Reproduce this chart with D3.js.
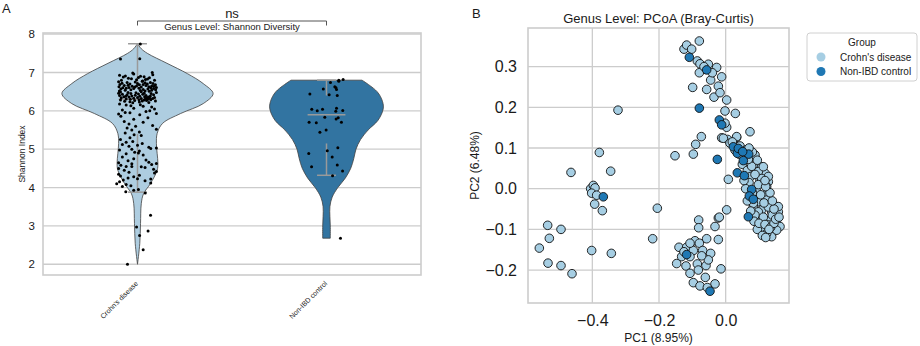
<!DOCTYPE html>
<html>
<head>
<meta charset="utf-8">
<script src="https://cdn.jsdelivr.net/npm/d3@7"></script>
<style>
body { margin: 0; background: #fff; }
text { font-family: "Liberation Sans", Arial, sans-serif; fill: #1a1a1a; }
</style>
</head>
<body>
<div class="figure"></div>
<script>
// ---- panel A data ----
var groups = ["Crohn's disease", "Non-IBD control"];
var shannonTicks = [2, 3, 4, 5, 6, 7, 8];

// violin outline (value, relative density)
var crohnsKdeY = [7.75, 7.62, 7.5, 7.24, 6.97, 6.71, 6.45, 6.19, 5.93, 5.67, 5.41, 5.15, 4.89, 4.63, 4.45, 4.1, 3.84, 3.58, 3.06, 2.54, 2.0];
var crohnsKdeD = [0.0, 0.05, 0.13, 0.39, 0.66, 0.87, 1.0, 0.87, 0.57, 0.33, 0.26, 0.25, 0.26, 0.27, 0.26, 0.17, 0.08, 0.05, 0.04, 0.03, 0.0];
var controlKdeY = [6.8, 6.5, 6.25, 6.05, 5.75, 5.5, 5.25, 5.0, 4.75, 4.5, 4.25, 4.0, 3.75, 3.5, 3.25, 3.0, 2.68];
var controlKdeD = [0.47, 0.67, 0.74, 0.75, 0.68, 0.55, 0.45, 0.39, 0.36, 0.32, 0.25, 0.15, 0.075, 0.045, 0.045, 0.05, 0.05];

// box stats: lower whisker, q1, median, q3, upper whisker
var crohnsBox = [3.88, 5.4, 6.3, 6.6, 7.75];
var controlBox = [4.32, 5.15, 5.9, 6.4, 6.8];

// strip points: [shannon, jitter]
var crohnsPts = [
  [7.74,0.015],[7.35,-0.09],[7.36,0.012],[6.99,-0.025],[7.0,0.078],
  [6.93,-0.095],[6.88,-0.075],[6.85,-0.048],[6.96,-0.02],[6.9,0.016],[6.82,0.042],[6.86,0.063],[6.94,0.081],[6.8,-0.085],[6.84,-0.032],[6.78,0.027],[6.83,0.053],[6.91,-0.064],[6.87,0.005],[6.8,0.09],[6.89,0.035],[6.81,-0.005],
  [6.76,-0.1],[6.72,-0.082],[6.69,-0.093],[6.66,-0.07],[6.63,-0.098],[6.6,-0.078],[6.57,-0.088],[6.54,-0.065],[6.52,-0.096],[6.74,-0.055],[6.7,-0.04],[6.67,-0.05],[6.64,-0.028],[6.61,-0.045],[6.58,-0.02],[6.55,-0.035],[6.75,-0.012],[6.71,0.0],[6.68,0.01],[6.65,-0.005],[6.62,0.02],[6.59,0.008],[6.56,0.03],[6.53,0.015],[6.77,0.025],[6.73,0.04],[6.7,0.052],[6.66,0.045],[6.63,0.06],[6.6,0.07],[6.57,0.055],[6.54,0.075],[6.51,0.062],[6.74,0.068],[6.71,0.082],[6.68,0.095],[6.64,0.088],[6.61,0.1],[6.58,0.085],[6.55,0.096],[6.52,0.04],[6.69,0.03],[6.59,-0.06],[6.65,0.075],[6.62,-0.015],
  [6.49,-0.09],[6.46,-0.1],[6.43,-0.08],[6.4,-0.095],[6.37,-0.072],[6.34,-0.086],[6.31,-0.06],[6.28,-0.09],[6.25,-0.068],[6.48,-0.05],[6.45,-0.035],[6.42,-0.055],[6.39,-0.03],[6.36,-0.045],[6.33,-0.02],[6.3,-0.038],[6.27,-0.015],[6.24,-0.04],[6.47,-0.008],[6.44,0.005],[6.41,-0.012],[6.38,0.012],[6.35,0.0],[6.32,0.02],[6.29,0.008],[6.26,0.025],[6.23,0.01],[6.5,0.02],[6.46,0.035],[6.43,0.028],[6.4,0.045],[6.37,0.038],[6.34,0.05],[6.31,0.042],[6.3,0.055],[6.28,0.035],[6.33,0.065],[6.36,0.058],[6.29,0.07],[6.27,0.048],[6.45,0.072],[6.42,0.085],[6.39,0.068],[6.35,0.09],[6.32,0.08],[6.26,0.095],[6.22,0.06],[6.48,0.1],[6.38,-0.062],[6.21,-0.025],
  [6.18,-0.095],[6.15,-0.06],[6.12,0.03],[6.1,0.075],[6.07,-0.02],[6.05,0.09],[6.02,-0.08],[5.98,0.045],[5.95,-0.04],[5.93,0.1],[5.92,-0.1],[5.9,0.012],[6.16,0.015],[6.0,0.065],[5.96,-0.065],[6.13,-0.035],
  [5.86,-0.088],[5.82,0.055],[5.78,-0.02],[5.72,-0.07],[5.7,0.03],[5.66,-0.045],[5.62,0.08],[5.6,-0.01],[5.55,-0.055],[5.52,0.1],[5.5,-0.03],[5.45,0.01],[5.42,-0.065],[5.38,-0.018],
  [5.36,0.02],[5.3,-0.04],[5.25,-0.09],[5.2,-0.025],[5.18,-0.06],[5.15,0.025],[5.12,-0.08],[5.08,-0.045],[5.05,0.06],[5.03,0.1],[5.02,0.07],[5.0,-0.03],[4.98,-0.095],[5.1,0.0],
  [4.95,0.01],[4.92,-0.015],[4.9,0.005],[4.88,-0.06],[4.85,0.03],[4.8,-0.08],[4.75,-0.02],[4.72,0.045],[4.7,-0.05],[4.66,0.06],[4.63,0.1],[4.62,-0.03],[4.6,0.075],[4.65,-0.1],
  [4.58,-0.088],[4.55,-0.06],[4.55,-0.03],[4.54,0.02],[4.52,0.04],[4.5,-0.1],[4.48,0.085],[4.45,-0.07],[4.42,0.1],[4.4,-0.045],[4.38,0.09],[4.35,-0.1],[4.32,0.01],[4.3,-0.09],[4.28,-0.02],[4.25,-0.05],[4.23,0.0],[4.22,0.07],[4.2,-0.075],[4.18,0.04],
  [4.15,-0.095],[4.12,0.07],[4.1,-0.11],[4.08,-0.06],[4.05,-0.035],[4.03,-0.08],[3.95,0.005],[3.93,-0.02],[3.89,-0.062],[3.86,0.041],
  [3.28,0.069],[2.97,-0.005],[2.87,0.056],[2.75,0.011],[2.38,0.03],[2.0,-0.053]
];
var controlPts = [
  [6.82,0.088],[6.8,0.065],[6.77,0.065],[6.74,0.021],[6.63,0.044],[6.57,-0.017],[6.56,0.053],[6.6,0.05],[6.44,-0.088],[6.42,0.014],[6.4,0.057],
  [6.04,-0.078],[6.0,-0.049],[6.04,-0.021],[6.07,0.053],[5.99,0.049],[6.01,0.086],[5.7,-0.092],[5.69,-0.054],[5.83,-0.009],[5.79,0.051],[5.82,0.062],[5.7,0.079],[5.5,-0.002],[5.44,-0.035],
  [4.89,-0.094],[5.04,0.06],[4.96,0.004],[4.8,0.03],[4.54,-0.079],[4.59,0.057],[4.43,0.085],[4.31,0.032],[2.68,0.074]
];

// ---- panel B data ----
var pc1Ticks = [-0.4, -0.2, 0.0];
var pc2Ticks = [-0.2, -0.1, 0.0, 0.1, 0.2, 0.3];

// [PC1, PC2]
var pcoaCrohns = [
  [-0.323,0.193],[-0.464,0.040],[-0.379,0.089],[-0.345,0.043],[-0.405,0.0],[-0.397,0.008],[-0.392,0.002],[-0.402,-0.011],[-0.387,-0.016],[-0.393,-0.038],[-0.370,-0.054],
  [-0.534,-0.090],[-0.494,-0.100],[-0.529,-0.122],[-0.559,-0.146],[-0.533,-0.183],[-0.494,-0.189],[-0.461,-0.209],[-0.402,-0.152],[-0.343,-0.159],[-0.205,-0.048],[-0.219,-0.123],[-0.152,0.081],
  [-0.081,-0.077],[-0.081,-0.096],[-0.022,-0.072],[0.003,-0.052],[-0.032,-0.093],[-0.022,-0.125],[-0.057,-0.123],[-0.092,-0.128],[-0.079,-0.134],[-0.140,-0.144],[-0.117,-0.144],[-0.097,-0.152],[-0.069,-0.152],[-0.045,-0.159],[-0.107,-0.167],[-0.147,-0.184],[-0.119,-0.190],[-0.085,-0.185],[-0.059,-0.189],[-0.082,-0.200],[-0.107,-0.208],[-0.014,-0.197],[-0.061,-0.218],[-0.097,-0.231],[-0.077,-0.239],[-0.032,-0.234],[-0.055,-0.243],[-0.132,-0.167],[-0.107,-0.134],[-0.052,-0.175],[-0.125,-0.155],[-0.072,-0.165],[-0.019,-0.070],
  [-0.125,0.343],[-0.117,0.353],[-0.102,0.343],[-0.079,0.363],[-0.085,0.314],[-0.077,0.307],[-0.052,0.306],[-0.079,0.285],[-0.027,0.298],[-0.012,0.275],[-0.045,0.267],[-0.022,0.252],[-0.099,0.249],[-0.057,0.244],[-0.035,0.225],[-0.017,0.236],[0.003,0.218],[-0.002,0.191],[0.029,0.185],[0.003,0.151],[-0.002,0.161],[-0.073,0.128],[-0.090,0.109],[-0.097,0.085],[-0.012,0.125],[0.006,0.121],[0.033,0.126],[0.008,0.023],[-0.065,0.300],[-0.040,0.285],
  [0.033,0.128],[-0.007,0.124],[0.013,0.112],[0.043,0.105],[0.06,0.095],[0.075,0.088],[0.083,0.079],[0.093,0.062],[0.108,0.054],[0.118,0.038],[0.103,0.021],[0.128,0.017],[0.123,0.005],[0.093,-0.007],[0.123,-0.02],[0.098,-0.032],[0.133,-0.036],[0.153,-0.044],[0.083,-0.044],[0.108,-0.052],[0.138,-0.057],[0.093,-0.069],[0.113,-0.077],[0.133,-0.077],[0.148,-0.069],[0.103,-0.093],[0.123,-0.097],[0.143,-0.106],[0.138,-0.118],[0.108,-0.106],[0.153,-0.085],[0.158,-0.057],
  [0.088,0.083],[0.098,0.042],[0.113,0.054],[0.128,0.03],[0.108,0.025],[0.118,-0.016],[0.083,-0.036],[0.123,-0.028],[0.158,-0.044],[0.098,-0.057],[0.088,-0.065],[0.113,-0.07],[0.128,-0.089],[0.108,-0.098],[0.123,-0.11],[0.163,-0.093],[0.153,-0.102],[0.073,0.14],
  [0.05,0.06],[0.065,0.045],[0.075,0.03],[0.07,0.015],[0.06,0.0],[0.065,-0.03],[0.075,-0.055],[0.085,-0.08],[0.095,-0.1],[0.1,-0.085],[0.118,-0.088],[0.135,-0.095],[0.145,-0.085],[0.14,-0.065],[0.128,-0.045],[0.115,-0.035],[0.105,-0.015],[0.098,0.01],[0.088,0.035],[0.078,0.055],[0.068,0.072],[0.04,0.085],[0.028,0.095],[0.02,0.115],[0.055,0.02],[0.08,-0.01],[0.13,-0.1],[0.11,-0.115],[0.12,-0.12],[0.15,-0.075],[0.16,-0.07],[0.145,-0.05],[0.14,-0.03],[0.133,-0.01],[0.12,0.005],[0.118,0.02],[0.095,0.07],[0.08,0.09],[0.07,0.1]
];
var pcoaControl = [
  [-0.109,0.323],[-0.057,0.292],[-0.079,0.198],[-0.019,0.169],[-0.012,0.157],[-0.025,0.072],
  [0.023,0.103],[0.035,0.087],[0.053,0.069],[0.069,0.085],[0.038,0.099],[0.051,0.091],[0.035,0.039],[0.056,0.032],
  [0.078,-0.002],[0.071,-0.018],[0.083,-0.026],[0.068,-0.069],
  [-0.367,-0.020],[-0.117,-0.162],[-0.047,-0.252]
];

var colLight = "#a6cee3", colDark = "#1f78b4";
var violinFill = ["#aecde0", "#3274a1"];
var gridCol = "#cccccc";

var svg = d3.select(".figure").append("svg")
   .attr("width", 920)
   .attr("height", 346);

// =================== panel A: violin ===================
let xCat = d3.scaleLinear().domain([-0.5, 1.5]).range([43, 421]);
let yDiv = d3.scaleLinear().domain([1.72, 8.03]).range([275, 33]);
let violinW = d3.scaleLinear().domain([0, 1]).range([0, 0.4]);

let panelA = svg.append("g");

panelA.selectAll("line.grid")
   .data(shannonTicks)
   .enter()
   .append("line")
   .attr("class", "grid")
   .attr("x1", xCat(-0.5))
   .attr("x2", xCat(1.5))
   .attr("y1", d => yDiv(d))
   .attr("y2", d => yDiv(d))
   .style("stroke", gridCol)
   .style("stroke-width", 1.3);

let violins = [
   {i: 0, ys: crohnsKdeY, ds: crohnsKdeD, box: crohnsBox, pts: crohnsPts},
   {i: 1, ys: controlKdeY, ds: controlKdeD, box: controlBox, pts: controlPts}
];

violins.forEach(v => {
   let prof = v.ys.map((y, k) => [y, v.ds[k]]);
   let area = d3.area()
      .y(d => yDiv(d[0]))
      .x0(d => xCat(v.i - violinW(d[1])))
      .x1(d => xCat(v.i + violinW(d[1])))
      .curve(d3.curveCatmullRom);
   panelA.append("path")
      .datum(prof)
      .attr("d", area)
      .style("fill", violinFill[v.i])
      .style("stroke", "#404040")
      .style("stroke-width", 0.8);

   // box-less boxplot: whiskers, caps, median
   let b = v.box;
   let segs = [
      [v.i, b[3], v.i, b[4]],
      [v.i, b[0], v.i, b[1]],
      [v.i - 0.05, b[4], v.i + 0.05, b[4]],
      [v.i - 0.05, b[0], v.i + 0.05, b[0]],
      [v.i - 0.1, b[2], v.i + 0.1, b[2]]
   ];
   panelA.selectAll(null)
      .data(segs)
      .enter()
      .append("line")
      .attr("x1", d => xCat(d[0]))
      .attr("y1", d => yDiv(d[1]))
      .attr("x2", d => xCat(d[2]))
      .attr("y2", d => yDiv(d[3]))
      .style("stroke", "#9a9a9a")
      .style("stroke-width", 1.5);

   panelA.selectAll(null)
      .data(v.pts)
      .enter()
      .append("circle")
      .attr("cx", d => xCat(v.i + d[1]))
      .attr("cy", d => yDiv(d[0]))
      .attr("r", 1.5)
      .style("fill", "#000");
});

panelA.append("rect")
   .attr("x", xCat(-0.5))
   .attr("y", yDiv(8.03))
   .attr("width", xCat(1.5) - xCat(-0.5))
   .attr("height", yDiv(1.72) - yDiv(8.03))
   .style("fill", "none")
   .style("stroke", gridCol)
   .style("stroke-width", 1.6);

let yAxisA = panelA.append("g")
   .attr("transform", `translate(${xCat(-0.5)},0)`)
   .call(d3.axisLeft(yDiv).tickValues(shannonTicks).tickSize(0).tickPadding(8).tickFormat(d3.format("d")));
yAxisA.select(".domain").remove();
yAxisA.selectAll("text").style("font-size", "11.5px").style("font-family", "Liberation Sans, Arial");

panelA.selectAll("text.xlab")
   .data(groups)
   .enter()
   .append("text")
   .attr("class", "xlab")
   .attr("transform", (d, i) => `translate(${xCat(i) + 1},${yDiv(1.72) + 9}) rotate(-45)`)
   .style("text-anchor", "end")
   .style("font-size", "7px")
   .text(d => d);

panelA.append("text")
   .attr("transform", `translate(25,${(yDiv(8.03) + yDiv(1.72)) / 2}) rotate(-90)`)
   .style("text-anchor", "middle")
   .style("font-size", "8.5px")
   .text("Shannon Index");

// significance bracket
panelA.append("path")
   .attr("d", `M${xCat(0)},25.5 V21 H${xCat(1)} V25.5`)
   .style("fill", "none")
   .style("stroke", "#555")
   .style("stroke-width", 1);

panelA.append("text")
   .attr("x", (xCat(0) + xCat(1)) / 2)
   .attr("y", 18)
   .style("text-anchor", "middle")
   .style("font-size", "13px")
   .text("ns");

panelA.append("text")
   .attr("x", (xCat(0) + xCat(1)) / 2)
   .attr("y", 29.5)
   .style("text-anchor", "middle")
   .style("font-size", "9.5px")
   .text("Genus Level: Shannon Diversity");

panelA.append("text")
   .attr("x", 2)
   .attr("y", 12.5)
   .style("font-size", "13px")
   .text("A");

// =================== panel B: PCoA ===================
let xPC = d3.scaleLinear().domain([-0.593, 0.19]).range([528, 789]);
let yPC = d3.scaleLinear().domain([-0.281, 0.395]).range([303, 28]);

let panelB = svg.append("g");

panelB.selectAll("line.vgrid")
   .data(pc1Ticks)
   .enter()
   .append("line")
   .attr("x1", d => xPC(d))
   .attr("x2", d => xPC(d))
   .attr("y1", yPC(0.395))
   .attr("y2", yPC(-0.281))
   .style("stroke", gridCol)
   .style("stroke-width", 1.3);

panelB.selectAll("line.hgrid")
   .data(pc2Ticks)
   .enter()
   .append("line")
   .attr("x1", xPC(-0.593))
   .attr("x2", xPC(0.19))
   .attr("y1", d => yPC(d))
   .attr("y2", d => yPC(d))
   .style("stroke", gridCol)
   .style("stroke-width", 1.3);

panelB.selectAll("circle.cd")
   .data(pcoaCrohns)
   .enter()
   .append("circle")
   .attr("class", "cd")
   .attr("cx", d => xPC(d[0]))
   .attr("cy", d => yPC(d[1]))
   .attr("r", 4.3)
   .style("fill", colLight)
   .style("stroke", "#111")
   .style("stroke-width", 0.9);

panelB.selectAll("circle.ctrl")
   .data(pcoaControl)
   .enter()
   .append("circle")
   .attr("class", "ctrl")
   .attr("cx", d => xPC(d[0]))
   .attr("cy", d => yPC(d[1]))
   .attr("r", 4.3)
   .style("fill", colDark)
   .style("stroke", "#111")
   .style("stroke-width", 0.9);

panelB.append("rect")
   .attr("x", xPC(-0.593))
   .attr("y", yPC(0.395))
   .attr("width", xPC(0.19) - xPC(-0.593))
   .attr("height", yPC(-0.281) - yPC(0.395))
   .style("fill", "none")
   .style("stroke", gridCol)
   .style("stroke-width", 1.6);

let yAxisB = panelB.append("g")
   .attr("transform", `translate(${xPC(-0.593)},0)`)
   .call(d3.axisLeft(yPC).tickValues(pc2Ticks).tickSize(0).tickPadding(11).tickFormat(d3.format(".1f")));
yAxisB.select(".domain").remove();
yAxisB.selectAll("text").style("font-size", "16px").style("font-family", "Liberation Sans, Arial");

let xAxisB = panelB.append("g")
   .attr("transform", `translate(0,${yPC(-0.281)})`)
   .call(d3.axisBottom(xPC).tickValues(pc1Ticks).tickSize(0).tickPadding(12).tickFormat(d3.format(".1f")));
xAxisB.select(".domain").remove();
xAxisB.selectAll("text").style("font-size", "16px").style("font-family", "Liberation Sans, Arial");

panelB.append("text")
   .attr("x", (xPC(-0.593) + xPC(0.19)) / 2)
   .attr("y", 342)
   .style("text-anchor", "middle")
   .style("font-size", "12px")
   .text("PC1 (8.95%)");

panelB.append("text")
   .attr("transform", `translate(479,${(yPC(0.395) + yPC(-0.281)) / 2}) rotate(-90)`)
   .style("text-anchor", "middle")
   .style("font-size", "12px")
   .text("PC2 (6.48%)");

panelB.append("text")
   .attr("x", (xPC(-0.593) + xPC(0.19)) / 2)
   .attr("y", 23)
   .style("text-anchor", "middle")
   .style("font-size", "13px")
   .text("Genus Level: PCoA (Bray-Curtis)");

panelB.append("text")
   .attr("x", 472)
   .attr("y", 18)
   .style("font-size", "13px")
   .text("B");

// legend
let legend = svg.append("g").attr("transform", "translate(807,33)");
legend.append("rect")
   .attr("width", 110)
   .attr("height", 48)
   .attr("rx", 3)
   .style("fill", "#fff")
   .style("stroke", "#d0d0d0")
   .style("stroke-width", 1);
legend.append("text")
   .attr("x", 55)
   .attr("y", 13)
   .style("text-anchor", "middle")
   .style("font-size", "10px")
   .text("Group");
[colLight, colDark].forEach((c, i) => {
   legend.append("circle")
      .attr("cx", 14)
      .attr("cy", 24 + i * 14.5)
      .attr("r", 4.5)
      .style("fill", c);
   legend.append("text")
      .attr("x", 33)
      .attr("y", 27.5 + i * 14.5)
      .style("font-size", "10px")
      .text(groups[i]);
});
</script>
</body>
</html>
